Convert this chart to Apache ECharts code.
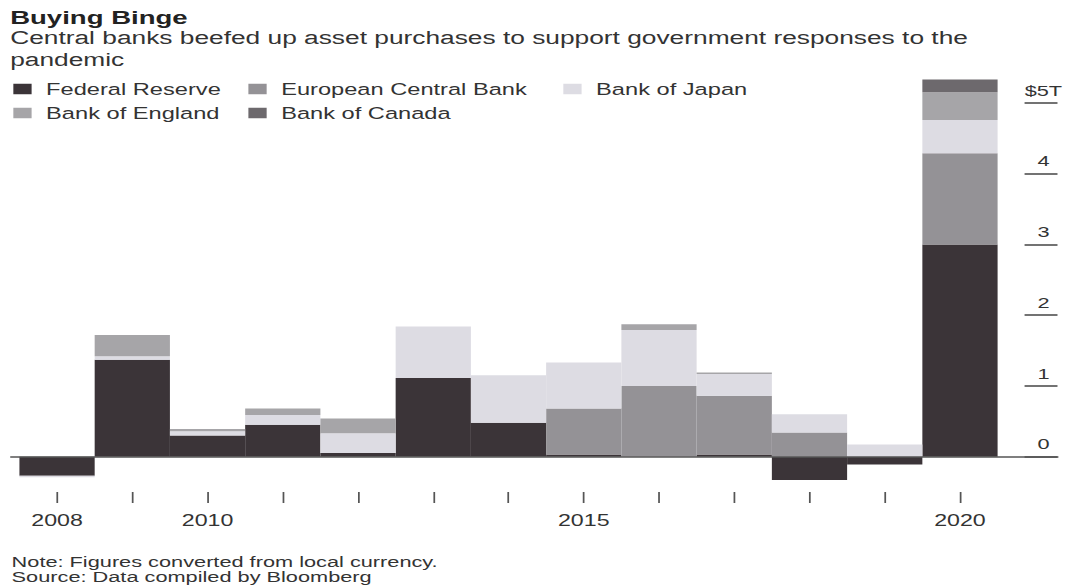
<!DOCTYPE html>
<html>
<head>
<meta charset="utf-8">
<script src="https://cdn.jsdelivr.net/npm/echarts@6/dist/echarts.min.js"></script>
<style>
  html, body { margin: 0; padding: 0; background: #fff; overflow: hidden; }
  /* the source picture is stretched sideways, so the chart is laid out narrow and widened */
  #chart { width: 736.55px; height: 588px; transform: scaleX(1.45); transform-origin: 0 0; }
</style>
</head>
<body>
<div id="chart"></div>
<script>
// 年份
const years = ['2008', '2009', '2010', '2011', '2012', '2013', '2014', '2015', '2016', '2017', '2018', '2019', '2020']
const xLabelYears = ['2008', '2010', '2015', '2020']
// 各央行资产购买 (万亿美元)
const fed = [-0.27, 1.37, 0.30, 0.45, 0.05, 1.11, 0.48, 0.03, 0, 0.03, -0.33, -0.11, 3.0]
const ecb = [0, 0, 0, 0, 0, 0, 0, 0.65, 1.0, 0.83, 0.34, 0, 1.29]
const boj = [-0.02, 0.05, 0.06, 0.14, 0.28, 0.73, 0.67, 0.65, 0.79, 0.31, 0.26, 0.17, 0.47]
const boe = [0, 0.30, 0.03, 0.09, 0.21, 0, 0, 0, 0.08, 0.02, 0, 0, 0.39]
const boc = [0, 0, 0, 0, 0, 0, 0, 0, 0, 0, 0, 0, 0.18]
// y轴刻度
const yTicks = [0, 1, 2, 3, 4, 5]
const yTickLabels = ['0', '1', '2', '3', '4', '$5T']

const chart = echarts.init(document.getElementById('chart'), null, { renderer: 'svg' })

const legendBase = {
  icon: 'rect',
  itemWidth: 12.6,
  itemHeight: 10.5,
  padding: 0,
  selectedMode: false,
  textStyle: { fontSize: 16.3, color: '#333', padding: [0, 0, 0, 5] }
}

const barSeries = (name, data, color) => ({
  name,
  type: 'bar',
  stack: 'total',
  data,
  barCategoryGap: '0%',
  xAxisIndex: 0,
  yAxisIndex: 0,
  itemStyle: { color },
  emphasis: { disabled: true }
})

const option = {
  animation: false,
  textStyle: { fontFamily: 'Liberation Sans, Arial, sans-serif' },
  title: [
    {
      text: 'Buying Binge',
      left: 7,
      top: 8.5,
      padding: 0,
      textStyle: { fontSize: 19, fontWeight: 'bold', color: '#222', lineHeight: 19 }
    },
    {
      text: 'Central banks beefed up asset purchases to support government responses to the\npandemic',
      left: 7,
      top: 27,
      padding: 0,
      textStyle: { fontSize: 18.15, fontWeight: 'normal', color: '#333', lineHeight: 22 }
    },
    {
      text: 'Note: Figures converted from local currency.\nSource: Data compiled by Bloomberg',
      left: 8,
      top: 554,
      padding: 0,
      textStyle: { fontSize: 15, fontWeight: 'normal', color: '#333', lineHeight: 15 }
    }
  ],
  legend: [
    Object.assign({ left: 9.2, top: 81, data: ['Federal Reserve'] }, legendBase),
    Object.assign({ left: 171.3, top: 81, data: ['European Central Bank'] }, legendBase),
    Object.assign({ left: 388.5, top: 81, data: ['Bank of Japan'] }, legendBase),
    Object.assign({ left: 9.2, top: 105, data: ['Bank of England'] }, legendBase),
    Object.assign({ left: 171.3, top: 105, data: ['Bank of Canada'] }, legendBase)
  ],
  grid: [
    { left: 13.4, right: 49, top: 67.6, bottom: 96 },
    // 零线用的透明网格
    { left: 7.6, right: 7.6, top: 67.6, bottom: 96 }
  ],
  xAxis: [
    {
      type: 'category',
      gridIndex: 0,
      data: years,
      axisLine: { show: false, onZero: false },
      axisTick: { show: true, alignWithLabel: true, interval: 0, length: 11, lineStyle: { color: '#555', width: 1.2 } },
      axisLabel: {
        margin: 20,
        fontSize: 16,
        color: '#333',
        interval: (i, v) => xLabelYears.includes(v)
      },
      splitLine: { show: false }
    },
    {
      type: 'value',
      gridIndex: 1,
      min: 0,
      max: 1,
      z: 10,
      axisLine: { show: true, onZero: true, lineStyle: { color: '#555', width: 1.5 } },
      axisTick: { show: false },
      axisLabel: { show: false },
      splitLine: { show: false }
    }
  ],
  yAxis: [
    {
      type: 'value',
      gridIndex: 0,
      min: -0.5,
      max: 5.5,
      position: 'right',
      offset: 18.6,
      axisLine: { show: false },
      axisTick: {
        show: true,
        length: 22.7,
        customValues: yTicks,
        lineStyle: { color: '#444', width: 1.5 }
      },
      axisLabel: {
        margin: 13,
        align: 'center',
        verticalAlign: 'bottom',
        padding: [0, 0, 5, 0],
        fontSize: 15,
        color: '#333',
        customValues: yTicks,
        formatter: (v) => yTickLabels[yTicks.indexOf(v)]
      },
      splitLine: { show: false }
    },
    {
      type: 'value',
      gridIndex: 1,
      min: -0.5,
      max: 5.5,
      show: false
    }
  ],
  series: [
    barSeries('Federal Reserve', fed, '#3b3438'),
    barSeries('European Central Bank', ecb, '#949296'),
    barSeries('Bank of Japan', boj, '#dddce3'),
    barSeries('Bank of England', boe, '#a6a5a8'),
    barSeries('Bank of Canada', boc, '#6d696d')
  ]
}

chart.setOption(option)
</script>
</body>
</html>
